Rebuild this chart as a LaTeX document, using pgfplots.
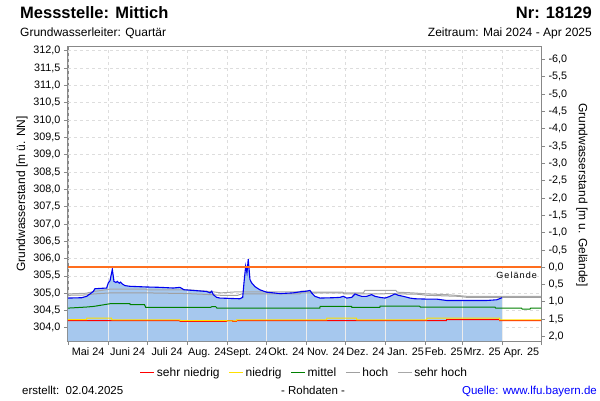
\documentclass[border=0pt]{standalone}
\usepackage{fontspec}
\setmainfont{Liberation Sans}
\newfontfamily\spacedfont[LetterSpace=12]{Liberation Sans}
\usepackage{pgfplots}
\usepackage{pgfplotstable}
\pgfplotsset{compat=1.18}

\definecolor{fillblue}{HTML}{A6C8EE}
\definecolor{lineblue}{HTML}{0000F0}
\definecolor{gridgray}{HTML}{DDDDDD}
\definecolor{axgray}{HTML}{888888}
\definecolor{ylw}{HTML}{FFE000}
\definecolor{grn}{HTML}{008000}
\definecolor{hochgray}{HTML}{A0A0A0}
\definecolor{shgray}{HTML}{A8A8A8}
\definecolor{linkblue}{HTML}{0000FF}

\pgfplotstableread{
d v
0 304.86
10.5 304.87
14.4 304.91
19.5 305.05
20.8 305.13
29.8 305.15
31.1 305.30
32.4 305.36
34.2 305.69
35.5 305.34
37 305.31
38 305.34
39.6 305.29
40.6 305.32
42.2 305.26
44 305.22
47.8 305.20
60.7 305.18
71 305.17
81.3 305.15
86.4 305.17
89.5 305.10
96.7 305.08
107 305.05
109.6 305.01
110.9 305.06
112.1 304.96
114.7 304.88
117.3 304.86
132.7 304.84
134.8 304.88
135.8 305.30
137.1 305.78
138.1 305.59
139.1 305.98
140.4 305.40
141.7 305.30
144.3 305.19
148 305.10
153.2 305.03
163.6 304.99
173.8 305.01
179 305.04
184.2 305.06
186.7 305.08
188 305.01
190.6 304.91
194.4 304.86
204.7 304.87
209.9 304.88
212.4 304.91
215 304.86
218.9 304.88
221.5 304.98
224 304.94
226.6 304.91
230.5 304.91
234.3 304.96
236.9 304.91
240.7 304.88
244.6 304.86
248.5 304.91
252.3 304.98
254.9 304.94
258.7 304.91
263.9 304.86
267.7 304.84
276.8 304.83
284.5 304.83
292.2 304.79
323 304.79
330.8 304.81
335 304.87
}\measured

\pgfplotstableread{
d v
0 304.98
14 305.00
20 305.05
33 305.12
60 305.12
61 305.10
92 305.10
110 305.05
118 305.01
130 305.04
179 305.04
180 305.06
187 305.06
188 305.03
212 305.03
213 305.01
228 305.01
229 305.08
253 305.08
254 305.03
266 305.01
277 304.98
292 304.96
302 304.93
308 304.91
365 304.91
}\sehrhoch

\pgfplotstableread{
d v
0 304.94
14 304.95
20 304.98
33 305.01
60 305.01
92 304.99
110 304.96
118 304.94
131 304.94
134 304.98
179 304.98
180 305.01
212 305.01
213 304.98
244 304.98
245 304.99
270 304.97
277 304.94
302 304.91
308 304.88
365 304.88
}\hoch

\pgfplotstableread{
d v
0 304.57
14 304.60
20 304.62
33 304.70
47.8 304.70
48 304.67
59 304.67
60 304.59
110 304.59
111 304.61
114 304.61
115 304.57
194.4 304.57
194.5 304.62
218.9 304.62
219 304.59
240.7 304.59
240.8 304.63
271 304.63
272 304.60
329.5 304.60
330 304.57
350 304.57
350.5 304.54
356.5 304.54
357 304.57
365 304.57
}\mittel

\pgfplotstableread{
d v
0 304.24
14.4 304.24
14.5 304.28
33.7 304.28
33.8 304.23
86.4 304.23
86.5 304.21
122.4 304.21
122.5 304.20
130 304.20
130.1 304.23
199.6 304.23
199.7 304.28
222.7 304.28
222.8 304.23
276.8 304.23
276.9 304.28
333 304.28
333.1 304.23
365 304.23
}\niedrig

\pgfplotstableread{
d v
0 304.21
86.4 304.21
86.5 304.19
122.4 304.19
122.5 304.21
127 304.21
127.1 304.19
130 304.19
130.1 304.21
292 304.21
292.1 304.24
333 304.24
333.1 304.21
365 304.21
}\sehrniedrig

\begin{document}
\begin{tikzpicture}
\useasboundingbox (0pt,0pt) rectangle (600pt,400pt);

\begin{axis}[
  at={(68pt,59pt)}, anchor=south west,
  scale only axis, width=473pt, height=295pt,
  xmin=0, xmax=365, ymin=-6.39, ymax=2.13, y dir=reverse,
  xtick=\empty, ytick pos=right,
  axis line style={axgray, line width=1pt},
  tick style={axgray, line width=0.8pt},
  tick align=outside, major tick length=4pt,
  ytick={-6,-5.5,...,2.01},
  yticklabel style={/pgf/number format/.cd, fixed, fixed zerofill, precision=1, use comma, assume math mode=true},
  ticklabel style={font=\fontsize{10.8}{12}\selectfont},
]
\end{axis}

\begin{axis}[
  at={(68pt,59pt)}, anchor=south west,
  scale only axis, width=473pt, height=295pt,
  xmin=0, xmax=365, ymin=303.62, ymax=312.14,
  axis line style={axgray, line width=1pt},
  tick style={axgray, line width=0.8pt},
  tick align=outside,
  xtick pos=bottom, ytick pos=left,
  xtick={15.5,46,76.5,107.5,138,168.5,199,229.5,260.5,290,319.5,350},
  xticklabels={Mai 24,Juni 24,Juli 24,Aug. 24,Sept. 24,Okt. 24,Nov. 24,Dez. 24,Jan. 25,Feb. 25,Mrz. 25,Apr. 25},
  major x tick style={draw=none},
  minor xtick={0,31,61,92,123,153,184,214,245,276,304,335,365},
  minor tick length=4pt, major tick length=4pt,
  xminorgrids=true, xmajorgrids=false, ymajorgrids=true,
  minor x grid style={gridgray, line width=0.8pt, dash pattern=on 3pt off 3pt},
  major grid style={gridgray, line width=0.8pt, dash pattern=on 3pt off 3pt},
  ytick={304,304.5,...,312.01},
  yticklabel style={/pgf/number format/.cd, fixed, fixed zerofill, precision=1, use comma, assume math mode=true},
  ticklabel style={font=\fontsize{10.8}{12}\selectfont},
  xticklabel style={yshift=1pt},
  legend style={at={(0.5,-0.108)}, anchor=center, draw=none, fill=none,
    legend columns=5, font=\fontsize{12}{14}\selectfont,
    /tikz/every even column/.append style={column sep=7pt},
    inner sep=0pt},
  legend image code/.code={\draw[#1] (0pt,0pt) -- (14pt,0pt);},
  clip=true,
]
\addplot[fill=fillblue, draw=none, forget plot] table[x=d,y=v] {\measured} \closedcycle;
\addplot[ycomb, draw=white!85!gray, line width=0.9pt, mark=none, forget plot] coordinates {
 (31,305.27) (61,305.16) (92,305.08) (123,304.82) (153,305.01) (184,305.04)
 (214,304.86) (245,304.84) (276,304.81) (304,304.77) (335,304.85)};
\addplot[red, line width=1pt, mark=none] table[x=d,y=v] {\sehrniedrig};
\addlegendentry{sehr niedrig}
\addplot[ylw, line width=1pt, mark=none] table[x=d,y=v] {\niedrig};
\addlegendentry{niedrig}
\addplot[grn, line width=1pt, mark=none] table[x=d,y=v] {\mittel};
\addlegendentry{mittel}
\addplot[hochgray, line width=1pt, mark=none] table[x=d,y=v] {\hoch};
\addlegendentry{hoch}
\addplot[shgray, line width=1pt, mark=none] table[x=d,y=v] {\sehrhoch};
\addlegendentry{sehr hoch}
\addplot[lineblue, line width=1.1pt, mark=none, forget plot] table[x=d,y=v] {\measured};
\addplot[color={rgb,255:red,255;green,110;blue,30}, line width=1.5pt, mark=none, forget plot] coordinates {(0,305.76) (365,305.76)};
\node[anchor=north east, font=\spacedfont\fontsize{9}{10}\selectfont, inner sep=0pt] at (axis cs:362,305.62) {Gelände};
\end{axis}

\node[anchor=base west, font=\bfseries\fontsize{16.5}{19}\selectfont, inner sep=0pt] at (20pt,381pt) {Messstelle: Mittich};
\node[anchor=base east, font=\bfseries\fontsize{16.5}{19}\selectfont, inner sep=0pt] at (592pt,381pt) {Nr: 18129};
\node[anchor=base west, font=\fontsize{12}{14}\selectfont, inner sep=0pt] at (20pt,363pt) {Grundwasserleiter: Quartär};
\node[anchor=base east, font=\fontsize{12}{14}\selectfont, inner sep=0pt] at (592pt,363pt) {Zeitraum: Mai 2024 - Apr 2025};
\node[rotate=90, font=\fontsize{12}{14}\selectfont, inner sep=0pt] at (22pt,206pt) {Grundwasserstand [m ü. NN]};
\node[rotate=-90, font=\fontsize{12}{14}\selectfont, inner sep=0pt] at (582pt,205pt) {Grundwasserstand [m u. Gelände]};
\node[anchor=base west, font=\fontsize{11.5}{13}\selectfont, inner sep=0pt] at (22pt,6pt) {erstellt:\ \ 02.04.2025};
\node[anchor=base, font=\fontsize{11.5}{13}\selectfont, inner sep=0pt] at (313pt,6pt) {- Rohdaten -};
\node[anchor=base east, font=\fontsize{11.5}{13}\selectfont, text=linkblue, inner sep=0pt] at (597pt,6pt) {Quelle: www.lfu.bayern.de};
\end{tikzpicture}
\end{document}
